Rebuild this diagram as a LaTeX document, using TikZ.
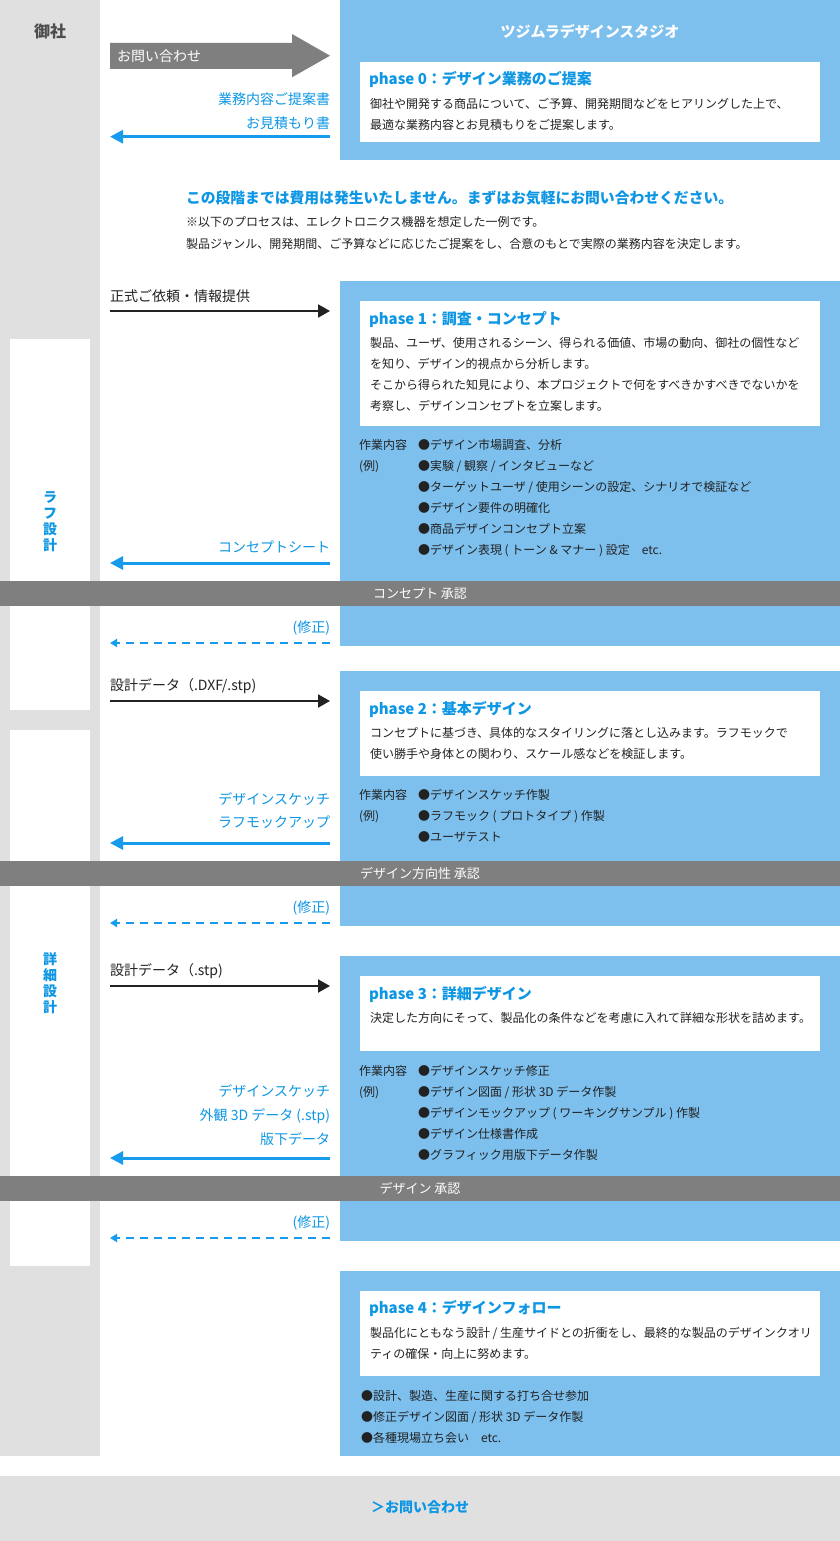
\documentclass[tikz,border=0pt]{standalone}
\usepackage{fontspec}
\setmainfont{Noto Sans CJK JP}
\usepackage{tikz}
\usetikzlibrary{backgrounds}
\usetikzlibrary{positioning}
\usetikzlibrary{arrows.meta}
\definecolor{lgray}{HTML}{E0E0E0}
\definecolor{bargray}{HTML}{7F7F7F}
\definecolor{sky}{HTML}{7DC0EE}
\definecolor{tblue}{HTML}{0D96E4}
\definecolor{ablue}{HTML}{179BEF}
\definecolor{ink}{HTML}{222222}
\definecolor{darkink}{HTML}{4D4D4D}

\begin{document}
\begin{tikzpicture}[
            x = 1pt, y = -1pt, % one unit is one pixel, y grows downwards
            > = {Triangle[length=12pt, width=13pt]}, % arrow head style
            every node/.style = {inner sep = 0pt, outer sep = 0pt}
            ]

        \tikzstyle{block}=[anchor = north west, draw = none]
        \tikzstyle{phase}=[block, fill = sky, minimum width = 500pt]
        \tikzstyle{card}=[block, fill = white, minimum width = 460pt]
        \tikzstyle{bar}=[fill = bargray, text = white, minimum width = 840pt, minimum height = 25pt, font = \fontsize{13pt}{15pt}\selectfont]
        \tikzstyle{ttl}=[anchor = base west, text = tblue, font = \fontsize{15pt}{18pt}\selectfont\bfseries]
        \tikzstyle{txt}=[anchor = base west, align = left, text = ink, font = \fontsize{12pt}{21pt}\selectfont]
        \tikzstyle{lab}=[anchor = base west, text = ink, font = \fontsize{14pt}{24pt}\selectfont]
        \tikzstyle{blab}=[lab, anchor = base east, align = right, text = tblue]
        \tikzstyle{side}=[anchor = base, align = center, text = tblue, font = \fontsize{14pt}{16pt}\selectfont\bfseries]
        \tikzstyle{blk}=[->, line width = 2pt, draw = ink]
        \tikzstyle{blu}=[-{Triangle[length=13pt, width=13pt]}, line width = 3pt, draw = ablue]
        \tikzstyle{fix}=[-{Triangle[length=7pt, width=8pt]}, line width = 2pt, draw = ablue, dash pattern = on 8pt off 6pt]

        \useasboundingbox (0,0) rectangle (840,1541);

        % columns
        \begin{scope}[on background layer]
        \fill[white] (0,0) rectangle (840,1541);
        \node[block, fill = lgray, minimum width = 100pt, minimum height = 1456pt] (C) at (0,0) {};
        \node[block, fill = white, minimum width = 80pt, minimum height = 371pt] (C1) at (10,339) {};
        \node[block, fill = white, minimum width = 80pt, minimum height = 536pt] (C2) at (10,730) {};
        \node[block, fill = lgray, minimum width = 840pt, minimum height = 65pt] (F) at (0,1476) {};
        % studio side
        \node[phase, minimum height = 160pt] (B0) at (340,0) {};
        \node[phase, minimum height = 365pt] (B1) at (340,281) {};
        \node[phase, minimum height = 255pt] (B2) at (340,671) {};
        \node[phase, minimum height = 285pt] (B3) at (340,956) {};
        \node[phase, minimum height = 185pt] (B4) at (340,1271) {};
        \end{scope}

        \node[anchor = base, text = darkink, font = \fontsize{16pt}{18pt}\selectfont\bfseries] (Y) at (50,38) {御社};
        \node[anchor = base, text = white, font = \fontsize{15pt}{18pt}\selectfont\bfseries] (S) at (590,37.7) {ツジムラデザインスタジオ};
        % side labels, base = last line
        \node[side] (R) at (50,550.3) {ラ\\フ\\設\\計};
        \node[side] (D) at (50,1012.3) {詳\\細\\設\\計};

        % phase 0
        \node[card, minimum height = 80pt] (W0) at (360,62) {};
        \node[ttl] (T0) [below right = 23pt and 9pt of W0.north west, anchor = base west] {phase 0：デザイン業務のご提案};
        \node[txt] (X0) [below = 44.5pt of T0.base west, anchor = base west, xshift = 1pt] {御社や開発する商品について、ご予算、開発期間などをヒアリングした上で、\\最適な業務内容とお見積もりをご提案します。};

        \fill[bargray] (110,43) -- (292,43) -- (292,34) -- (330,55.7) -- (292,77.3) -- (292,69) -- (110,69) -- cycle;
        \node[lab, text = white] (Q) at (117,61.3) {お問い合わせ};

        \node[blab] (Q1) at (330,104.3) {業務内容ご提案書};
        \node[blab] (Q2) [below = 24pt of Q1.base east, anchor = base east] {お見積もり書};
        \coordinate (a0) at (330,136.7);
        \coordinate (b0) at (110,136.7);
        \draw[blu] (a0) -- (b0);

        % note
        \node[anchor = base west, text = tblue, font = \fontsize{14.8pt}{18pt}\selectfont\bfseries] (H) at (186,203.6) {この段階までは費用は発生いたしません。まずはお気軽にお問い合わせください。};
        \node[txt, font = \fontsize{12pt}{22pt}\selectfont] (H1) [below = 45pt of H.base west, anchor = base west] {※以下のプロセスは、エレクトロニクス機器を想定した一例です。\\製品ジャンル、開発期間、ご予算などに応じたご提案をし、合意のもとで実際の業務内容を決定します。};

        % phase 1
        \node[lab] (L1) at (110,301.3) {正式ご依頼・情報提供};
        \coordinate (a1) at (110,311);
        \coordinate (b1) at (330,311);
        \draw[blk] (a1) -- (b1);

        \node[card, minimum height = 125pt] (W1) at (360,301) {};
        \node[ttl] (T1) [below right = 23.7pt and 9pt of W1.north west, anchor = base west] {phase 1：調査・コンセプト};
        \node[txt] (X1) [below = 86pt of T1.base west, anchor = base west, xshift = 1pt] {製品、ユーザ、使用されるシーン、得られる価値、市場の動向、御社の個性など\\を知り、デザイン的視点から分析します。\\そこから得られた知見により、本プロジェクトで何をすべきかすべきでないかを\\考察し、デザインコンセプトを立案します。};
        \node[txt] (K1) [below = 44.6pt of W1.south west, anchor = base west, xshift = -1pt] {作業内容\\(例)};
        \node[txt] (I1) [below right = 84pt and 59pt of K1.base west, anchor = base west] {●デザイン市場調査、分析\\●実験 / 観察 / インタビューなど\\●ターゲットユーザ / 使用シーンの設定、シナリオで検証など\\●デザイン要件の明確化\\●商品デザインコンセプト立案\\●デザイン表現 ( トーン \& マナー ) 設定　etc.};

        \node[blab] (Q3) at (330,552.3) {コンセプトシート};
        \coordinate (a2) at (330,563);
        \coordinate (b2) at (110,563);
        \draw[blu] (a2) -- (b2);

        \node[bar] (G1) at (420,593.5) {コンセプト 承認};

        \node[blab] (M1) at (330,632.3) {(修正)};
        \coordinate (a3) at (330,643);
        \coordinate (b3) at (110,643);
        \draw[fix] (a3) -- (b3);

        % phase 2
        \node[lab] (L2) at (110,690.3) {設計データ（.DXF/.stp)};
        \coordinate (a4) at (110,701);
        \coordinate (b4) at (330,701);
        \draw[blk] (a4) -- (b4);

        \node[card, minimum height = 85pt] (W2) at (360,691) {};
        \node[ttl] (T2) [below right = 23.7pt and 9pt of W2.north west, anchor = base west] {phase 2：基本デザイン};
        \node[txt] (X2) [below = 44pt of T2.base west, anchor = base west, xshift = 1pt] {コンセプトに基づき、具体的なスタイリングに落とし込みます。ラフモックで\\使い勝手や身体との関わり、スケール感などを検証します。};
        \node[txt] (K2) [below = 44.6pt of W2.south west, anchor = base west, xshift = -1pt] {作業内容\\(例)};
        \node[txt] (I2) [below right = 21pt and 59pt of K2.base west, anchor = base west] {●デザインスケッチ作製\\●ラフモック ( プロトタイプ ) 作製\\●ユーザテスト};

        \node[blab] (Q4) at (330,804.3) {デザインスケッチ};
        \node[blab] (Q5) [below = 23pt of Q4.base east, anchor = base east] {ラフモックアップ};
        \coordinate (a5) at (330,843);
        \coordinate (b5) at (110,843);
        \draw[blu] (a5) -- (b5);

        \node[bar] (G2) at (420,873.5) {デザイン方向性 承認};

        \node[blab] (M2) at (330,912.3) {(修正)};
        \coordinate (a6) at (330,923);
        \coordinate (b6) at (110,923);
        \draw[fix] (a6) -- (b6);

        % phase 3
        \node[lab] (L3) at (110,975.3) {設計データ（.stp)};
        \coordinate (a7) at (110,986);
        \coordinate (b7) at (330,986);
        \draw[blk] (a7) -- (b7);

        \node[card, minimum height = 75pt] (W3) at (360,976) {};
        \node[ttl] (T3) [below right = 23.7pt and 9pt of W3.north west, anchor = base west] {phase 3：詳細デザイン};
        \node[txt] (X3) [below = 23pt of T3.base west, anchor = base west, xshift = 1pt] {決定した方向にそって、製品化の条件などを考慮に入れて詳細な形状を詰めます。};
        \node[txt] (K3) [below = 45.6pt of W3.south west, anchor = base west, xshift = -1pt] {作業内容\\(例)};
        \node[txt] (I3) [below right = 63pt and 59pt of K3.base west, anchor = base west] {●デザインスケッチ修正\\●デザイン図面 / 形状 3D データ作製\\●デザインモックアップ ( ワーキングサンプル ) 作製\\●デザイン仕様書作成\\●グラフィック用版下データ作製};

        \node[blab] (Q6) at (330,1096.3) {デザインスケッチ};
        \node[blab] (Q7) [below = 24pt of Q6.base east, anchor = base east] {外観 3D データ (.stp)};
        \node[blab] (Q8) [below = 24pt of Q7.base east, anchor = base east] {版下データ};
        \coordinate (a8) at (330,1158);
        \coordinate (b8) at (110,1158);
        \draw[blu] (a8) -- (b8);

        \node[bar] (G3) at (420,1188.5) {デザイン 承認};

        \node[blab] (M3) at (330,1227.3) {(修正)};
        \coordinate (a9) at (330,1238);
        \coordinate (b9) at (110,1238);
        \draw[fix] (a9) -- (b9);

        % phase 4
        \node[card, minimum height = 85pt] (W4) at (360,1291) {};
        \node[ttl] (T4) [below right = 22.7pt and 9pt of W4.north west, anchor = base west] {phase 4：デザインフォロー};
        \node[txt] (X4) [below = 45pt of T4.base west, anchor = base west, xshift = 1pt] {製品化にともなう設計 / 生産サイドとの折衝をし、最終的な製品のデザインクオリ\\ティの確保・向上に努めます。};
        \node[txt] (I4) [below = 66.6pt of W4.south west, anchor = base west, xshift = 1pt] {●設計、製造、生産に関する打ち合せ参加\\●修正デザイン図面 / 形状 3D データ作製\\●各種現場立ち会い　etc.};

        % footer
        \node[anchor = base, text = tblue, font = \fontsize{14pt}{18pt}\selectfont\bfseries] (Z) at (420,1512.3) {＞お問い合わせ};

\end{tikzpicture}
\end{document}
